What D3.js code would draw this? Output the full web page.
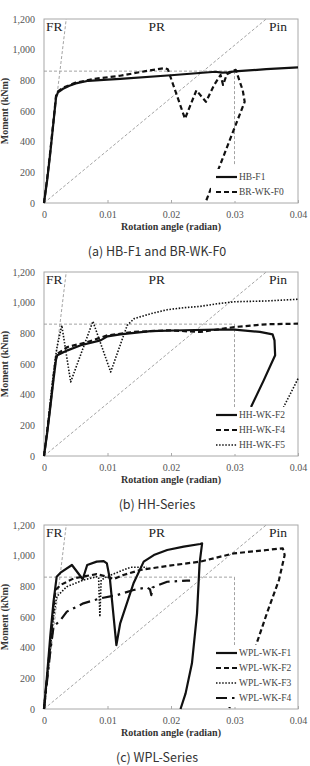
<!DOCTYPE html>
<html>
<head>
<meta charset="utf-8">
<script src="https://cdn.jsdelivr.net/npm/d3@7"></script>
<style>
  body { margin: 0; background: #fff; }
  svg { display: block; }
</style>
</head>
<body>
<script>
// tick labels shared by all three panels
let xTicks = [0, 0.01, 0.02, 0.03, 0.04];
let yTicks = [0, 200, 400, 600, 800, 1000, 1200];

// classification lines: FR / Pin stiffness limits, plastic moment and 0.03 rad
let frLine = [[0, 0], [0.0035, 1200]];
let pinLine = [[0, 0], [0.035, 1200]];
let mpLine = [[0, 860], [0.03, 860]];

// (a) HB-F1 and BR-WK-F0  [rotation, moment]
let hbF1 = [[0,0],[0.0005,150],[0.001,330],[0.0015,530],[0.0019,690],[0.0022,722],[0.003,745],[0.004,765],[0.005,780],[0.007,797],[0.01,805],[0.012,810],[0.02,833],[0.027,856],[0.028,850],[0.029,852],[0.03,858],[0.035,873],[0.04,885]];
let brWkF0 = [[0,0],[0.0005,160],[0.001,340],[0.0015,540],[0.0019,700],[0.0022,728],[0.003,752],[0.005,785],[0.008,810],[0.012,830],[0.016,860],[0.019,880],[0.0195,872],[0.0222,550],[0.024,735],[0.0255,660],[0.0268,770],[0.0278,835],[0.0282,770],[0.0288,840],[0.0298,862],[0.0302,868],[0.0313,735],[0.0316,660],[0.0254,0]];

// (b) HH-Series
let hhWkF2 = [[0,0],[0.0005,150],[0.001,320],[0.0015,500],[0.0019,630],[0.0021,657],[0.0037,689],[0.0058,722],[0.0089,754],[0.01,780],[0.012,793],[0.0168,815],[0.022,820],[0.0273,824],[0.03,824],[0.034,809],[0.036,793],[0.0363,754],[0.0364,657],[0.0346,493],[0.0326,320]];
let hhWkF4 = [[0,0],[0.0005,160],[0.001,335],[0.0015,520],[0.0019,650],[0.0021,667],[0.0037,711],[0.0068,743],[0.01,787],[0.0142,809],[0.0194,820],[0.0246,809],[0.03,841],[0.035,859],[0.04,863]];
let hhWkF5 = [[0,0],[0.0005,170],[0.001,360],[0.0015,540],[0.002,700],[0.0028,852],[0.0042,483],[0.0077,878],[0.0105,548],[0.0131,852],[0.0142,896],[0.0168,928],[0.0194,954],[0.022,967],[0.0246,976],[0.0273,993],[0.03,1006],[0.035,1011],[0.04,1022]];
let hhWkF5b = [[0.04,504],[0.038,341],[0.0375,298]];

// (c) WPL-Series
let wplWkF1 = [[0,0],[0.0005,230],[0.001,480],[0.0015,700],[0.002,863],[0.0026,889],[0.0044,939],[0.0061,846],[0.0068,939],[0.0083,961],[0.0094,965],[0.0099,950],[0.0104,841],[0.0114,417],[0.012,559],[0.0141,820],[0.0157,961],[0.0173,1004],[0.0194,1037],[0.022,1059],[0.0246,1076],[0.0249,1080],[0.0245,950],[0.0241,624],[0.0233,298],[0.0223,102],[0.0215,0]];
let wplWkF2 = [[0,0],[0.0005,210],[0.001,430],[0.0015,650],[0.0018,776],[0.0026,809],[0.0047,852],[0.0083,880],[0.0099,863],[0.011,848],[0.0125,874],[0.0152,907],[0.0194,933],[0.0246,961],[0.0299,1015],[0.0351,1037],[0.0376,1048],[0.0379,1004],[0.037,841],[0.0351,624],[0.0334,417],[0.0291,0]];
let wplWkF3 = [[0,0],[0.0005,200],[0.001,400],[0.0015,600],[0.002,733],[0.0036,798],[0.0062,841],[0.0083,863],[0.0086,860],[0.0088,602],[0.009,841],[0.0099,863],[0.0125,907],[0.0136,924],[0.0162,924]];
let wplWkF4 = [[0,0],[0.0005,190],[0.001,380],[0.0015,537],[0.0026,580],[0.0036,635],[0.0062,689],[0.0089,722],[0.0115,743],[0.0141,776],[0.0162,793],[0.0167,780],[0.0169,743],[0.0171,793],[0.0194,830],[0.0225,837],[0.023,837]];

let captions = ["(a) HB-F1 and BR-WK-F0", "(b) HH-Series", "(c) WPL-Series"];

// line styles (dash patterns) by name
let styles = {
  solid:   { dash: null,        width: 2.2 },
  dashed:  { dash: "5,3",       width: 2.2 },
  dotted:  { dash: "1.5,1.6",   width: 1.6 },
  dashdot: { dash: "11,5,2.5,5", width: 2.2 }
};

let panels = [
  { series: [
      { name: "HB-F1", style: "solid", data: [hbF1] },
      { name: "BR-WK-F0", style: "dashed", data: [brWkF0] } ] },
  { series: [
      { name: "HH-WK-F2", style: "solid", data: [hhWkF2] },
      { name: "HH-WK-F4", style: "dashed", data: [hhWkF4] },
      { name: "HH-WK-F5", style: "dotted", data: [hhWkF5, hhWkF5b] } ] },
  { series: [
      { name: "WPL-WK-F1", style: "solid", data: [wplWkF1] },
      { name: "WPL-WK-F2", style: "dashed", data: [wplWkF2] },
      { name: "WPL-WK-F3", style: "dotted", data: [wplWkF3] },
      { name: "WPL-WK-F4", style: "dashdot", data: [wplWkF4] } ] }
];

let svgWidth = 310, svgHeight = 766;
let left = 44, width = 254, height = 184;
let panelTops = [19, 272, 525];

let svg = d3.select("body").append("svg")
  .attr("width", svgWidth)
  .attr("height", svgHeight);

let xScale = d3.scaleLinear().domain([0, 0.04]).range([0, width]);
let yScale = d3.scaleLinear().domain([0, 1200]).range([height, 0]);

let lineGen = d3.line()
  .x(d => xScale(d[0]))
  .y(d => yScale(d[1]));

let serif = "'Liberation Serif', 'Times New Roman', serif";

panels.forEach(function(p, i) {
  let g = svg.append("g").attr("transform", "translate(" + left + "," + panelTops[i] + ")");

  // axes
  let yAxis = d3.axisLeft(yScale).tickValues(yTicks).tickFormat(d3.format(",")).tickSize(0).tickPadding(9);
  let xAxis = d3.axisBottom(xScale).tickValues(xTicks).tickFormat(d => d === 0 ? "0" : d3.format(".2f")(d)).tickSize(-3).tickPadding(7.5);

  let ya = g.append("g").call(yAxis);
  let xa = g.append("g").attr("transform", "translate(0," + height + ")").call(xAxis);
  [ya, xa].forEach(function(a) {
    a.select(".domain").remove();
    a.selectAll("text").attr("fill", "#555").style("font-family", serif).style("font-size", "10px");
    a.selectAll("line").attr("stroke", "#aaa");
  });

  // plot border
  g.append("rect")
    .attr("width", width).attr("height", height)
    .attr("fill", "none").attr("stroke", "#a8a8a8").attr("stroke-width", 1);

  // reference dashed lines
  let mp = mpLine[1];
  let refs = [frLine, pinLine, mpLine];
  let vertLow = [250, 300, 410][i];
  refs.push([[mp[0], mp[1]], [mp[0], vertLow]]);
  refs.forEach(function(r) {
    g.append("path").datum(r)
      .attr("d", lineGen)
      .attr("fill", "none")
      .attr("stroke", "#999")
      .attr("stroke-width", 0.9)
      .attr("stroke-dasharray", "3,2");
  });

  // curves
  p.series.forEach(function(s) {
    let st = styles[s.style];
    s.data.forEach(function(seg) {
      g.append("path").datum(seg)
        .attr("d", lineGen)
        .attr("fill", "none")
        .attr("stroke", "#111")
        .attr("stroke-width", st.width)
        .attr("stroke-linejoin", "round")
        .attr("stroke-dasharray", st.dash);
    });
  });

  // legend with white background
  let n = p.series.length;
  let rowY = k => height - 11 - (n - 1 - k) * 15;
  g.append("rect")
    .attr("x", 167).attr("y", rowY(0) - 8)
    .attr("width", width - 168).attr("height", height - 2 - (rowY(0) - 8))
    .attr("fill", "#fff");
  p.series.forEach(function(s, k) {
    let st = styles[s.style];
    g.append("line")
      .attr("x1", 172).attr("x2", 193)
      .attr("y1", rowY(k)).attr("y2", rowY(k))
      .attr("stroke", "#111")
      .attr("stroke-width", st.width)
      .attr("stroke-dasharray", st.dash);
    g.append("text")
      .attr("x", 195).attr("y", rowY(k) + 3.3)
      .attr("fill", "#444")
      .style("font-family", serif).style("font-size", "9.5px")
      .text(s.name);
  });

  // zone labels
  let zone = [["FR", 2, "start"], ["PR", 112.7, "middle"], ["Pin", width - 11, "end"]];
  zone.forEach(function(z) {
    g.append("text")
      .attr("x", z[1]).attr("y", 12)
      .attr("text-anchor", z[2])
      .attr("fill", "#222")
      .style("font-family", serif).style("font-size", "13.5px")
      .text(z[0]);
  });

  // axis titles
  g.append("text")
    .attr("transform", "translate(-36," + (height / 2) + ") rotate(-90)")
    .attr("text-anchor", "middle")
    .attr("fill", "#333")
    .style("font-family", serif).style("font-size", "10px").style("font-weight", "bold")
    .text("Moment (kNm)");
  g.append("text")
    .attr("x", width / 2).attr("y", height + 27)
    .attr("text-anchor", "middle")
    .attr("fill", "#333")
    .style("font-family", serif).style("font-size", "10px").style("font-weight", "bold")
    .text("Rotation angle (radian)");

  // caption
  svg.append("text")
    .attr("x", 157).attr("y", panelTops[i] + height + 52.5)
    .attr("text-anchor", "middle")
    .attr("fill", "#333")
    .style("font-family", "'Noto Sans CJK KR', 'Noto Sans', sans-serif").style("font-size", "12.5px")
    .text(captions[i]);
});
</script>
</body>
</html>
